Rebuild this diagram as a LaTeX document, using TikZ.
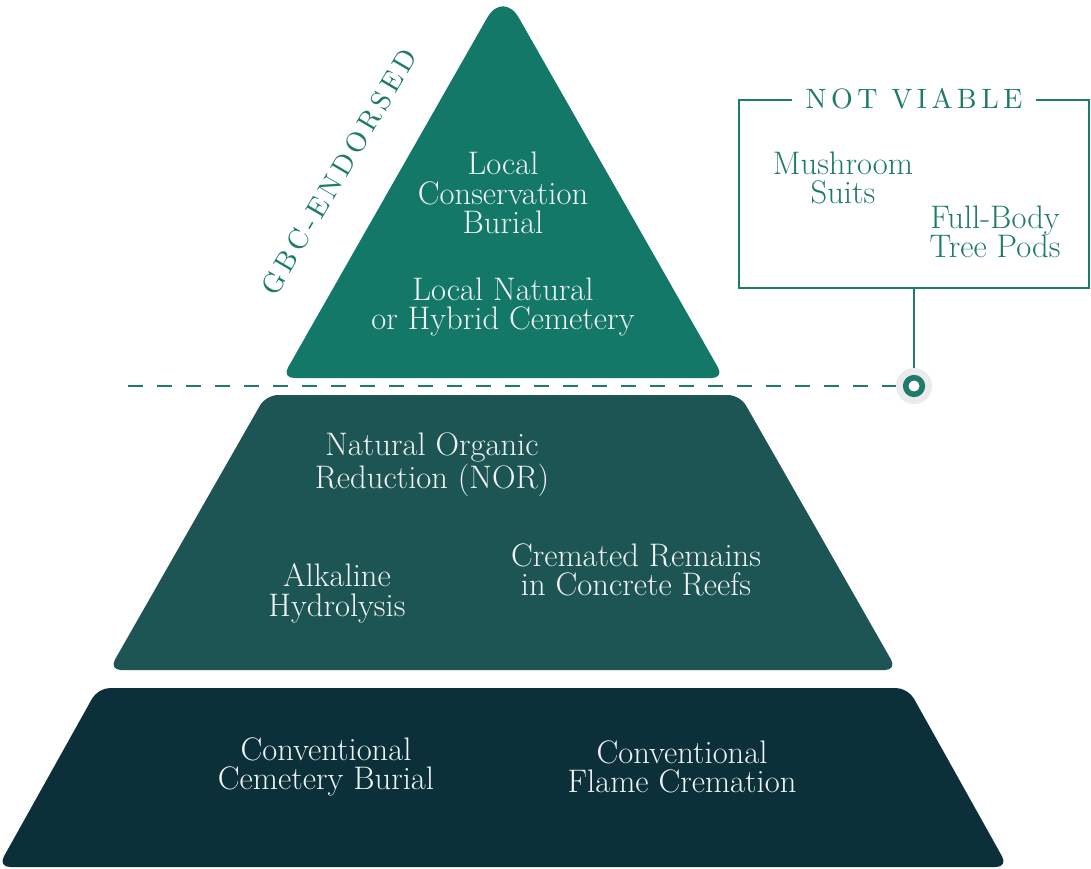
\documentclass[tikz,border=0pt]{standalone}
\usepackage{fontspec}
\usepackage{xcolor}
\usepackage{tikz}
\newfontfamily\spacedfont[LetterSpace=16]{lmroman10-regular.otf}
\definecolor{tealtop}{RGB}{20,120,104}
\definecolor{tealmid}{RGB}{28,85,83}
\definecolor{tealbot}{RGB}{11,48,57}
\definecolor{lineteal}{RGB}{30,122,107}
\definecolor{pingrey}{RGB}{235,235,235}

\begin{document}
\begin{tikzpicture}[x=0.5pt,y=-0.5pt,
    tiertext/.style={align=center,text=white!94!tealbot,inner sep=0pt,font=\fontsize{16.3}{14.8}\selectfont},
    boxtext/.style={align=center,text=lineteal,inner sep=0pt,font=\fontsize{16.3}{14.8}\selectfont},
    spaced/.style={text=lineteal,font=\spacedfont\fontsize{14}{14}\selectfont}]
  \useasboundingbox (0,0) rectangle (1091,868);

  % the three tiers
  \fill[tealtop,rounded corners=6pt]  (503,378) -- (282,378) [rounded corners=16pt] -- (503,-10) [rounded corners=6pt] -- (724,378) -- cycle;
  \fill[tealmid,rounded corners=6pt]  (503,670) -- (109,670) -- (266,395) -- (740,395) -- (897,670) -- cycle;
  \fill[tealbot,rounded corners=6pt]  (503,867) -- (-2,867) -- (98,688) -- (908,688) -- (1008,867) -- cycle;

  \node[tiertext] (conserv)  at (503,193) {Local\\Conservation\\Burial};
  \node[tiertext] (natural)  at (503,307) {Local Natural\\or Hybrid Cemetery};
  \node[tiertext] (nor)      at (432,465) {Natural Organic\\Reduction (NOR)};
  \node[tiertext] (alkaline) at (337,593) {Alkaline\\Hydrolysis};
  \node[tiertext] (reefs)    at (636,570) {Cremated Remains\\in Concrete Reefs};
  \node[tiertext] (burial)   at (326,767) {Conventional\\Cemetery Burial};
  \node[tiertext] (flame)    at (682,767) {Conventional\\Flame Cremation};

  \node[spaced,rotate=59.5] (gbc) at (339,172) {GBC-ENDORSED};

  % not viable box
  \node[draw=lineteal,line width=1.25pt,minimum width=175pt,minimum height=94pt] (box) at (914,194) {};
  \node[spaced,fill=white,inner xsep=7pt] (notviable) at (box.north) {NOT VIABLE};
  \node[boxtext] (mushroom) at (843,178) {Mushroom\\Suits};
  \node[boxtext] (treepods) at (995,232) {Full-Body\\Tree Pods};

  \node[circle,fill=pingrey,minimum size=18pt,inner sep=0pt] (pin) at (914,386) {};
  \node[circle,draw=lineteal,line width=2.8pt,fill=white,minimum size=8.3pt,inner sep=0pt] (pinring) at (pin) {};
  \coordinate (dashstart) at (128,386);

  \draw[lineteal,line width=1pt,dash pattern=on 7.5pt off 7pt] (dashstart) -- (pin);
  \draw[lineteal,line width=1.25pt] (box) -- (pin);
\end{tikzpicture}
\end{document}
